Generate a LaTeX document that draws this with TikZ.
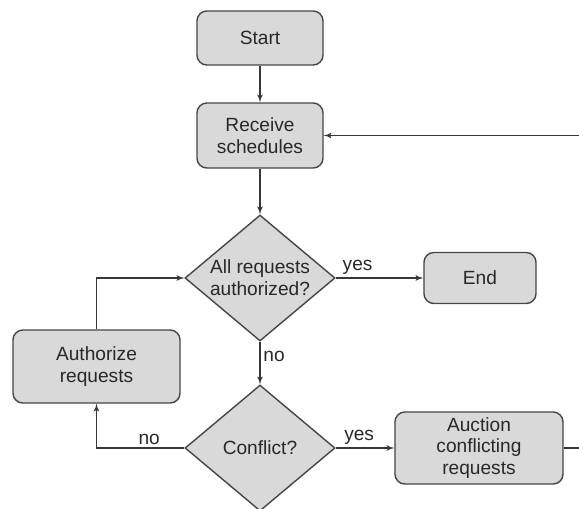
\documentclass[tikz,border=0pt]{standalone}
\usepackage{fontspec}
\setmainfont{Liberation Sans}
\usetikzlibrary{arrows,shapes.geometric}

\begin{document}
\begin{tikzpicture}[>=latex', x=0.025cm, y=-0.025cm]

\definecolor{boxfill}{RGB}{217, 217, 217}
\definecolor{boxline}{RGB}{70, 70, 70}
\definecolor{flowline}{RGB}{55, 55, 55}
\definecolor{labeltext}{RGB}{40, 40, 40}

% Canvas
\useasboundingbox (0,0) rectangle (579,508);

\tikzset{
    step box/.style={
        draw=boxline, line width=1pt, fill=boxfill,
        rectangle, rounded corners=7pt,
        text=labeltext, align=center, inner sep=0pt,
        font=\fontsize{13.6}{15.6}\selectfont
    },
    test box/.style={
        draw=boxline, line width=1pt, fill=boxfill,
        diamond, aspect=1.19, inner sep=0pt,
        minimum width=3.75cm, minimum height=3.15cm,
        text=labeltext, align=center,
        font=\fontsize{13.6}{15.6}\selectfont
    },
    flow/.style={
        draw=flowline, line width=0.9pt
    },
    answer/.style={
        text=labeltext, inner sep=2pt,
        font=\fontsize{13.6}{15.6}\selectfont
    }
}

% --- BOXES ---
\node[step box, minimum width=3.15cm, minimum height=1.35cm] (start) at (260,38) {Start};
\node[step box, minimum width=3.15cm, minimum height=1.625cm] (receive) at (260,135.5) {Receive\\schedules};
\node[test box] (allauth) at (260,278) {All requests\\authorized?};
\node[step box, minimum width=2.8cm, minimum height=1.275cm] (end) at (480,278) {End};
\node[step box, minimum width=4.175cm, minimum height=1.825cm] (authorize) at (96.5,366.5) {Authorize\\requests};
\node[test box] (conflict) at (260,448) {Conflict?};
\node[step box, minimum width=4.2cm, minimum height=1.8cm] (auction) at (479,448) {Auction\\conflicting\\requests};

% loose ends at the right border
\coordinate (backin) at (579,135.5);
\coordinate (backout) at (579,448);

% --- CONNECTIONS ---
\draw[flow,->] (start) -- (receive);
\draw[flow,->] (backin) -- (receive);
\draw[flow,->] (receive) -- (allauth);

\draw[flow,->] (allauth.east) -- node[answer, pos=0.25, anchor=south] {yes} (end);
\draw[flow,->] (allauth.south) -- node[answer, pos=0.35, anchor=west] {no} (conflict.north);

\draw[flow,->] (conflict.east) -- node[answer, pos=0.4, anchor=south] {yes} (auction);
\draw[flow] (auction) -- (backout);
\draw[flow,->] (conflict.west) -- node[answer, pos=0.4, anchor=south] {no} (authorize.south |- conflict.west) -- (authorize.south);
\draw[flow,->] (authorize.north) -- (authorize.north |- allauth.west) -- (allauth.west);

\end{tikzpicture}
\end{document}
